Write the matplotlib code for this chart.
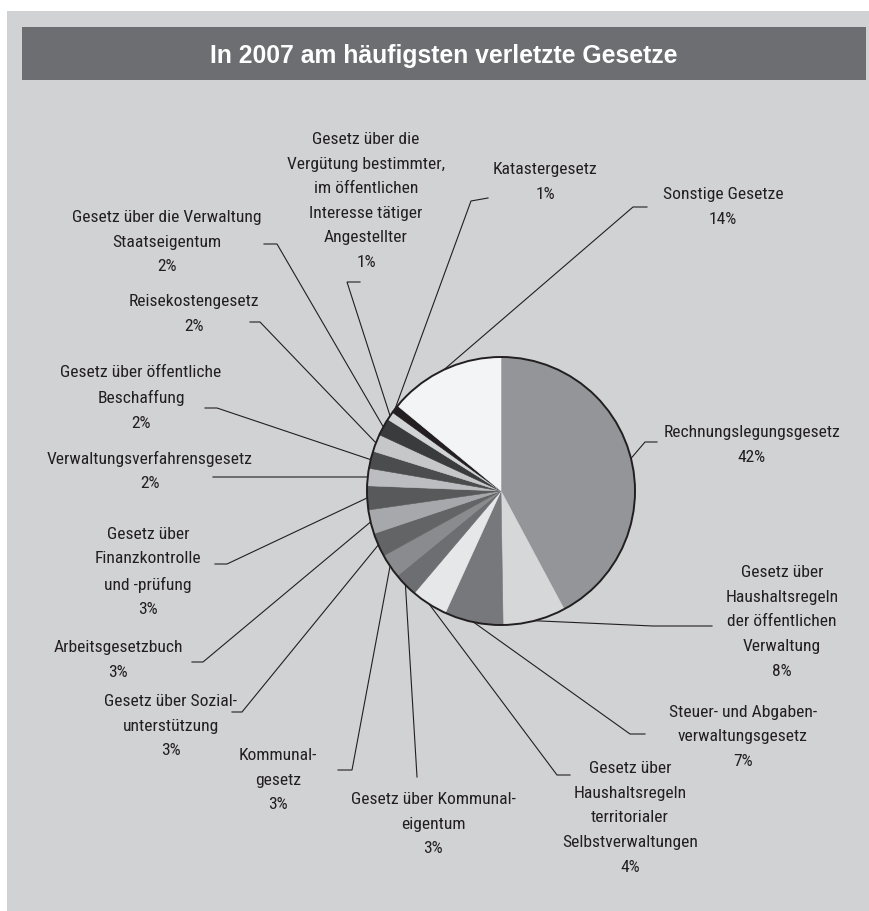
import numpy as np
import matplotlib
matplotlib.use("Agg")
import matplotlib.pyplot as plt
from matplotlib import patches

# ---------------- data ----------------
names = [
    "Rechnungslegungsgesetz",
    "Gesetz über\nHaushaltsregeln\nder öffentlichen\nVerwaltung",
    "Steuer- und Abgaben-\nverwaltungsgesetz",
    "Gesetz über\nHaushaltsregeln\nterritorialer\nSelbstverwaltungen",
    "Gesetz über Kommunal-\neigentum",
    "Kommunal-\ngesetz",
    "Gesetz über Sozial-\nunterstützung",
    "Arbeitsgesetzbuch",
    "Gesetz über\nFinanzkontrolle\nund -prüfung",
    "Verwaltungsverfahrensgesetz",
    "Gesetz über öffentliche\nBeschaffung",
    "Reisekostengesetz",
    "Gesetz über die Verwaltung\nStaatseigentum",
    "Gesetz über die\nVergütung bestimmter,\nim öffentlichen\nInteresse tätiger\nAngestellter",
    "Katastergesetz",
    "Sonstige Gesetze",
]
printed_pct = [42, 8, 7, 4, 3, 3, 3, 3, 3, 2, 2, 2, 2, 1, 1, 14]
shares = [42.4, 7.6, 7.1, 4.4, 2.9, 2.9, 2.9, 2.9, 2.9, 2.1, 2.1, 2.1, 2.1, 1.0, 1.0, 14.1]
title = "In 2007 am häufigsten verletzte Gesetze"

# ---------------- styles / layout ----------------
colors = ["#939598", "#d6d7d9", "#77787b", "#e6e7e8", "#6d6e71", "#8a8b8e",
          "#636466", "#a6a8ab", "#58595b", "#bcbdc0", "#4b4c4e", "#c6c7c9",
          "#3a3b3d", "#d3d4d6", "#231f20", "#f3f4f5"]
W, H = 869, 911
cx, cy, R = 501, 491, 134
BG = "#d1d2d4"
BAR = "#6d6e71"
INK = "#231f20"

# label block centres (x, y) in pixel coords (y downwards)
label_pos = [(752, 445), (782, 622), (743, 737), (630, 818), (433, 824),
             (278, 780), (171, 726), (118, 660), (148, 572), (150, 471),
             (141, 398), (194, 314), (167, 242), (366, 201), (545, 182),
             (723, 207)]
# leader line elbow and tail points (pixel coords)
elbows = [(645, 442), (653, 626), (630, 734), (557, 775), (417, 777),
          (352, 770), (242, 712), (203, 662), (227, 564), (213, 477),
          (217, 408), (260, 322), (277, 244), (347, 282), (471, 201),
          (633, 207)]
tails = [(657, 442), (712, 626), (645, 734), (570, 775), (417, 777),
         (338, 770), (232, 712), (192, 662), (215, 564), (213, 477),
         (205, 408), (250, 322), (264, 244), (360, 282), (488, 198),
         (647, 207)]

plt.rcParams['font.family'] = ['Roboto Condensed', 'DejaVu Sans']

fig = plt.figure(figsize=(W / 100, H / 100), dpi=100)
fig.patch.set_facecolor("white")
ax = fig.add_axes([0, 0, 1, 1])


def Y(y):
    return H - y


# background panel and title bar
ax.add_patch(patches.Rectangle((7, 0), W - 7, Y(11), facecolor=BG, edgecolor="none", zorder=0))
ax.add_patch(patches.Rectangle((22, Y(80)), 866 - 22, 80 - 27, facecolor=BAR, edgecolor="none", zorder=1))
ax.text(443.5, Y(63), title, ha="center", va="baseline", color="white",
        fontsize=17.8, fontweight="bold", family=["Liberation Sans", "DejaVu Sans"], zorder=5)

wedges, _ = ax.pie(shares, colors=colors, startangle=90, counterclock=False,
                   center=(cx, Y(cy)), radius=R,
                   wedgeprops=dict(linewidth=0.4))
for w in wedges:
    w.set_edgecolor(w.get_facecolor())
    w.set_zorder(3)
ax.add_patch(patches.Circle((cx, Y(cy)), R, fill=False, edgecolor=INK, linewidth=1.4, zorder=4))

for w, name, pct, (lx, ly), (ex, ey), (tx, ty) in zip(wedges, names, printed_pct, label_pos, elbows, tails):
    mid = np.deg2rad((w.theta1 + w.theta2) / 2)
    px = cx + R * np.cos(mid)
    py = Y(cy) + R * np.sin(mid)
    ax.plot([px, ex, tx], [py, Y(ey), Y(ty)], color=INK, linewidth=0.8,
            solid_joinstyle="miter", zorder=2)
    ax.text(lx, Y(ly), f"{name}\n{pct}%", ha="center", va="center",
            multialignment="center", fontsize=12.6, color=INK, linespacing=1.8, zorder=5)

ax.set_xlim(0, W)
ax.set_ylim(0, H)
ax.set_aspect("auto")
ax.axis("off")

fig.savefig("out.png", dpi=100, facecolor=fig.get_facecolor())
